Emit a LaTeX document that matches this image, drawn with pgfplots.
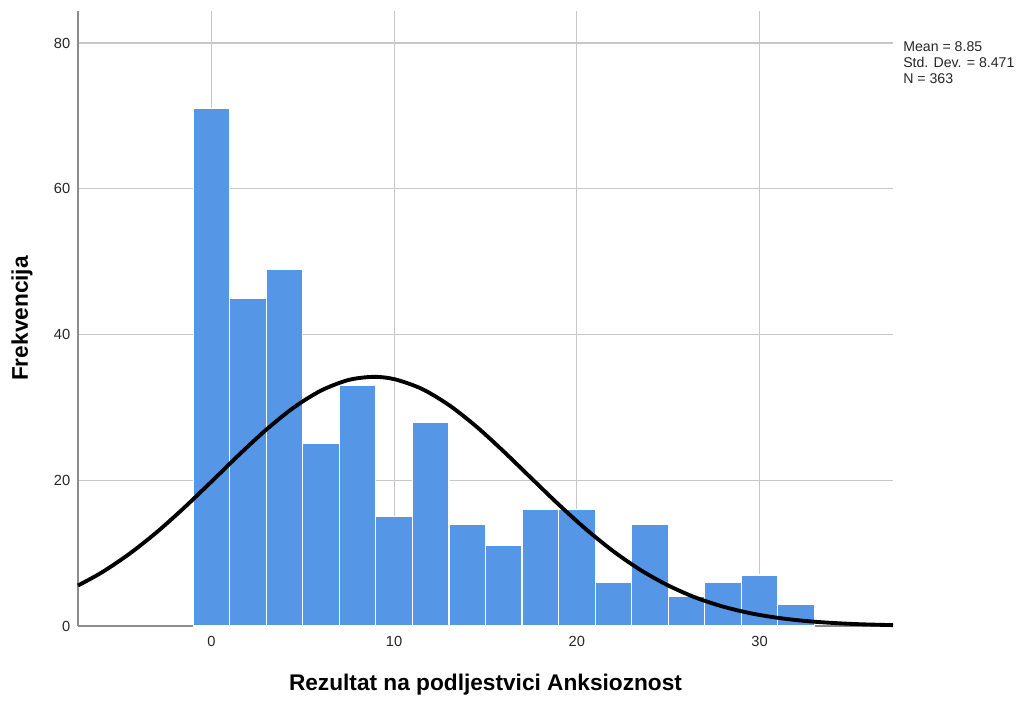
\documentclass[border=0pt]{standalone}
\usepackage{pgfplots}
\pgfplotsset{compat=1.18}
\usepackage{fontspec}
\setmainfont{Liberation Sans}
\definecolor{barblue}{RGB}{85,150,230}
\definecolor{gridgray}{RGB}{200,200,200}
\definecolor{axgray}{RGB}{140,140,140}
\begin{document}
\begin{tikzpicture}
\path[use as bounding box] (-58.5pt,-55.5pt) rectangle (709.5pt,469.5pt);
\begin{axis}[
  at={(0pt,0pt)}, anchor=south west,
  scale only axis,
  width=611.25pt, height=461.25pt,
  xmin=-7.3, xmax=37.3, ymin=0, ymax=84.4,
  axis x line*=bottom, axis y line*=left,
  axis line style={axgray, line width=1.2pt, -},
  xtick={0,10,20,30}, ytick={0,20,40,60,80},
  major tick length=0pt,
  grid=major,
  major grid style={gridgray, line width=0.9pt},
  tick label style={font=\fontsize{11}{13}\selectfont, text=black!85},
  /pgf/number format/assume math mode=true,
  xticklabel style={yshift=-4.3pt},
  yticklabel style={xshift=-2.3pt},
  clip=false,
]
\addplot[ybar interval, fill=barblue, draw=white, line width=0.9pt] coordinates {
(-1,71) (1,45) (3,49) (5,25) (7,33) (9,15) (11,28) (13,14) (15,11) (17,16)
(19,16) (21,6) (23,14) (25,4) (27,6) (29,7) (31,3) (33,3)
};
\addplot[black, line width=2.9pt, smooth, no marks] coordinates {
(-7.3,5.56) (-6,7.35) (-4.5,9.88) (-3,12.85) (-1.5,16.21) (0,19.81) (1.5,23.47)
(3,26.94) (4.5,29.97) (6,32.31) (7.5,33.76) (8.85,34.19) (10,33.88) (11.5,32.56)
(13,30.32) (14.5,27.37) (16,23.94) (17.5,20.30) (19,16.68) (20.5,13.28) (22,10.25)
(23.5,7.66) (25,5.56) (26.5,3.90) (28,2.66) (29.5,1.75) (31,1.12) (32.5,0.69)
(34,0.42) (35.5,0.24) (37.3,0.12)
};
\node[anchor=north west, align=left, inner sep=0pt,
  font=\fontsize{10.6}{12}\selectfont, text=black!85]
  at ([xshift=7.5pt, yshift=-22.5pt]rel axis cs:1,1)
  {Mean = 8.85\\Std. Dev. = 8.471\\N = 363};
\node[anchor=center, font=\fontsize{17}{20}\selectfont\bfseries]
  at ([yshift=-44pt]rel axis cs:0.5,0) {Rezultat na podljestvici Anksioznost};
\node[anchor=center, rotate=90, font=\fontsize{17}{20}\selectfont\bfseries]
  at ([xshift=-42pt]rel axis cs:0,0.5) {Frekvencija};
\end{axis}
\end{tikzpicture}
\end{document}
